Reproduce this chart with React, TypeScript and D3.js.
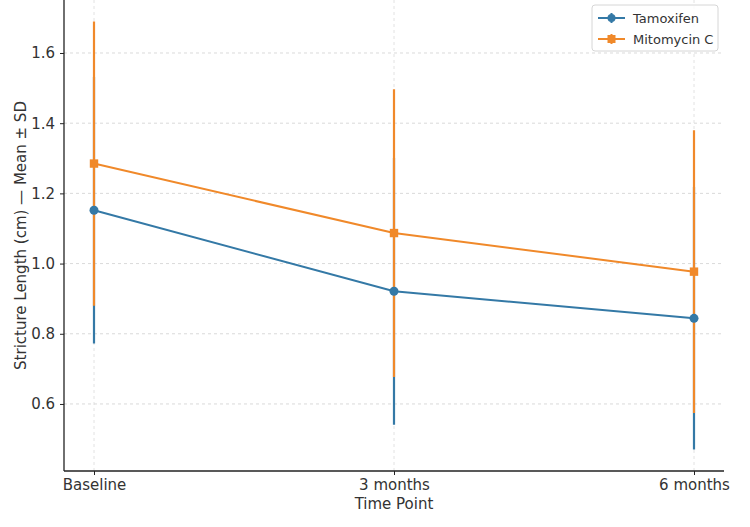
import React, { useRef, useEffect } from "react";
import * as d3 from "d3";

const timePoints = ["Baseline", "3 months", "6 months"];
const tamoxifenMean = [1.152, 0.921, 0.844];
const tamoxifenSD = [0.38, 0.38, 0.374];
const mitomycinMean = [1.285, 1.087, 0.977];
const mitomycinSD = [0.405, 0.41, 0.403];
const yTicks = [0.6, 0.8, 1.0, 1.2, 1.4, 1.6];

const WIDTH = 750;
const HEIGHT = 527;
const FONT = "DejaVu Sans, sans-serif";

export default function App() {
  const svgRef = useRef<SVGSVGElement>(null);

  useEffect(() => {
    const svg = d3.select(svgRef.current);
    svg.selectAll("*").remove();

    const left = 64, right = 724, top = 0, bottom = 471;

    // categorical x with matplotlib-style padding
    const x = d3.scaleLinear().domain([-0.1, timePoints.length - 1 + 0.1]).range([left, right]);

    const allLow = [
      ...tamoxifenMean.map((m, i) => m - tamoxifenSD[i]),
      ...mitomycinMean.map((m, i) => m - mitomycinSD[i]),
    ];
    const allHigh = [
      ...tamoxifenMean.map((m, i) => m + tamoxifenSD[i]),
      ...mitomycinMean.map((m, i) => m + mitomycinSD[i]),
    ];
    const lo = d3.min(allLow)!;
    const hi = d3.max(allHigh)!;
    const pad = (hi - lo) * 0.05;
    const y = d3.scaleLinear().domain([lo - pad, hi + pad]).range([bottom, top]);

    const g = svg.append("g");

    // grid
    g.selectAll(".hgrid")
      .data(yTicks)
      .enter()
      .append("line")
      .attr("x1", left)
      .attr("x2", right)
      .attr("y1", (d) => y(d))
      .attr("y2", (d) => y(d))
      .attr("stroke", "#d0d0d0")
      .attr("stroke-width", 0.8)
      .attr("stroke-dasharray", "3,3");

    g.selectAll(".vgrid")
      .data(timePoints)
      .enter()
      .append("line")
      .attr("x1", (_, i) => x(i))
      .attr("x2", (_, i) => x(i))
      .attr("y1", top)
      .attr("y2", bottom)
      .attr("stroke", "#dadada")
      .attr("stroke-width", 0.8)
      .attr("stroke-dasharray", "3,3");

    const series = [
      { name: "Tamoxifen", mean: tamoxifenMean, sd: tamoxifenSD, color: "#3479a6", marker: "circle" },
      { name: "Mitomycin C", mean: mitomycinMean, sd: mitomycinSD, color: "#f0892a", marker: "square" },
    ];

    const line = d3
      .line<number>()
      .x((_, i) => x(i))
      .y((d) => y(d));

    // lines and error bars first
    series.forEach((s) => {
      const sg = g.append("g");
      sg.append("path")
        .attr("d", line(s.mean))
        .attr("fill", "none")
        .attr("stroke", s.color)
        .attr("stroke-width", 2);

      sg.selectAll(".err")
        .data(s.mean)
        .enter()
        .append("line")
        .attr("x1", (_, i) => x(i))
        .attr("x2", (_, i) => x(i))
        .attr("y1", (d, i) => y(d - s.sd[i]))
        .attr("y2", (d, i) => y(d + s.sd[i]))
        .attr("stroke", s.color)
        .attr("stroke-width", 2.2);
    });

    // markers on top
    series.forEach((s) => {
      const mg = g.append("g");
      if (s.marker === "circle") {
        mg.selectAll(".mk")
          .data(s.mean)
          .enter()
          .append("circle")
          .attr("cx", (_, i) => x(i))
          .attr("cy", (d) => y(d))
          .attr("r", 4.5)
          .attr("fill", s.color);
      } else {
        mg.selectAll(".mk")
          .data(s.mean)
          .enter()
          .append("rect")
          .attr("x", (_, i) => x(i) - 4.2)
          .attr("y", (d) => y(d) - 4.2)
          .attr("width", 8.4)
          .attr("height", 8.4)
          .attr("fill", s.color);
      }
    });

    // axes
    const yAxis = svg
      .append("g")
      .attr("transform", `translate(${left},0)`)
      .call(d3.axisLeft(y).tickValues(yTicks).tickFormat(d3.format(".1f")).tickSize(4).tickPadding(5));
    yAxis.select(".domain").attr("stroke", "#222").attr("stroke-width", 1.3).attr("d", `M0,${top}V${bottom}`);
    yAxis.selectAll(".tick line").attr("stroke", "#222");
    yAxis.selectAll(".tick text").attr("font-family", FONT).attr("font-size", 15).attr("fill", "#333");

    const xAxis = svg
      .append("g")
      .attr("transform", `translate(0,${bottom})`)
      .call(
        d3
          .axisBottom(x)
          .tickValues(timePoints.map((_, i) => i))
          .tickFormat((d) => timePoints[d as number])
          .tickSize(4)
          .tickPadding(4)
      );
    xAxis.select(".domain").attr("stroke", "#222").attr("stroke-width", 1.3).attr("d", `M${left},0H${right}`);
    xAxis.selectAll(".tick line").attr("stroke", "#222");
    xAxis.selectAll(".tick text").attr("font-family", FONT).attr("font-size", 15).attr("fill", "#333");

    // axis labels
    svg.append("text")
      .attr("x", (left + right) / 2)
      .attr("y", 509)
      .attr("text-anchor", "middle")
      .attr("font-family", FONT)
      .attr("font-size", 15)
      .attr("fill", "#333")
      .text("Time Point");

    svg.append("text")
      .attr("transform", `translate(26,${(top + bottom) / 2}) rotate(-90)`)
      .attr("text-anchor", "middle")
      .attr("font-family", FONT)
      .attr("font-size", 15)
      .attr("fill", "#333")
      .text("Stricture Length (cm) — Mean ± SD");

    // legend
    const legend = svg.append("g").attr("transform", "translate(592,5)");
    legend.append("rect")
      .attr("width", 126)
      .attr("height", 46)
      .attr("rx", 3)
      .attr("fill", "white")
      .attr("fill-opacity", 0.85)
      .attr("stroke", "#d6d6d6");
    series.forEach((s, i) => {
      const ly = 13 + i * 21;
      legend.append("line")
        .attr("x1", 6)
        .attr("x2", 33)
        .attr("y1", ly)
        .attr("y2", ly)
        .attr("stroke", s.color)
        .attr("stroke-width", 2);
      legend.append("line")
        .attr("x1", 19.5)
        .attr("x2", 19.5)
        .attr("y1", ly - 5)
        .attr("y2", ly + 5)
        .attr("stroke", s.color)
        .attr("stroke-width", 2);
      if (s.marker === "circle") {
        legend.append("circle").attr("cx", 19.5).attr("cy", ly).attr("r", 4).attr("fill", s.color);
      } else {
        legend.append("rect").attr("x", 15.5).attr("y", ly - 4).attr("width", 8).attr("height", 8).attr("fill", s.color);
      }
      legend.append("text")
        .attr("x", 41)
        .attr("y", ly)
        .attr("dy", "0.35em")
        .attr("font-family", FONT)
        .attr("font-size", 13)
        .attr("fill", "#333")
        .text(s.name);
    });
  }, []);

  return (
    <div style={{ position: "absolute", left: 0, top: 0, width: WIDTH, height: HEIGHT, background: "white" }}>
      <svg ref={svgRef} width={WIDTH} height={HEIGHT}></svg>
    </div>
  );
}
